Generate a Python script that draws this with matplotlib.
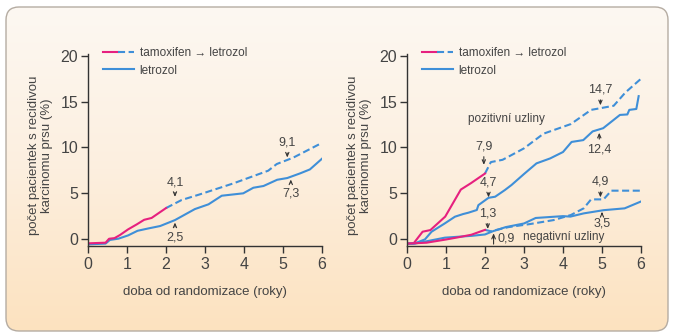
#!/usr/bin/env python3

import matplotlib

matplotlib.use("Agg")

import matplotlib.pyplot as plt
import numpy as np
from matplotlib.colors import LinearSegmentedColormap
from matplotlib.legend_handler import HandlerTuple
from matplotlib.lines import Line2D
from matplotlib.patches import FancyBboxPatch

plt.rcParams["font.family"] = ["Liberation Sans", "DejaVu Sans"]

PINK = "#e6207f"
BLUE = "#3f8fd8"
TEXT = "#444444"
AXIS = "#333333"
ARROW = "->,head_length=0.3,head_width=0.13"

# left panel: all patients
left_tam_x = [0, 0.45, 0.54, 0.68, 0.82, 1.03, 1.25, 1.44, 1.63, 2.0]
left_tam_y = [-0.47, -0.4, 0.03, 0.1, 0.44, 1.06, 1.6, 2.1, 2.3, 3.38]
left_seq_x = [2.0, 2.4, 2.87, 3.73, 4.62, 4.84, 5.26, 6.0]
left_seq_y = [3.38, 4.26, 4.88, 6.08, 7.46, 8.19, 8.88, 10.5]
left_let_x = [0, 0.45, 0.56, 0.78, 1.03, 1.27, 1.55, 1.85, 2.23, 2.74,
              3.09, 3.43, 3.98, 4.24, 4.5, 4.85, 5.11, 5.44, 5.69, 6.0]
left_let_y = [-0.58, -0.5, -0.1, 0.04, 0.4, 0.9, 1.16, 1.42, 2.07, 3.27,
              3.79, 4.73, 4.99, 5.6, 5.79, 6.47, 6.66, 7.17, 7.6, 8.77]

# right panel: positive nodes
pos_tam_x = [0, 0.17, 0.4, 0.6, 0.98, 1.38, 1.64, 2.0]
pos_tam_y = [-0.5, -0.47, 0.8, 0.98, 2.45, 5.4, 6.1, 7.15]
pos_seq_x = [2.0, 2.15, 2.45, 2.65, 3.0, 3.5, 4.2, 4.72, 4.98, 5.3, 5.6, 6.0]
pos_seq_y = [7.15, 8.4, 8.65, 9.1, 9.9, 11.5, 12.55, 14.1, 14.3, 14.55, 16.0, 17.5]
pos_let_x = [0, 0.2, 0.46, 0.63, 0.97, 1.23, 1.44, 1.57, 1.79, 1.83, 2.09, 2.26,
             2.51, 2.68, 3.0, 3.32, 3.67, 4.0, 4.22, 4.52, 4.76, 5.03, 5.46,
             5.65, 5.7, 5.88, 5.94]
pos_let_y = [-0.5, -0.47, -0.04, 0.8, 1.71, 2.44, 2.73, 2.87, 3.17, 3.7, 4.5, 4.62,
             5.35, 5.9, 7.1, 8.26, 8.8, 9.5, 10.6, 10.8, 11.75, 12.1, 13.55,
             13.6, 14.1, 14.2, 15.6]

# right panel: negative nodes
neg_tam_x = [0, 0.5, 1.0, 1.3, 1.65, 2.0]
neg_tam_y = [-0.5, -0.4, -0.05, 0.18, 0.47, 1.0]
neg_seq_x = [2.0, 2.15, 2.6, 3.16, 3.76, 4.2, 4.53, 4.72, 5.04, 5.24, 6.0]
neg_seq_y = [1.0, 0.85, 1.3, 1.64, 2.07, 2.62, 3.35, 4.33, 4.33, 5.28, 5.28]
neg_let_x = [0, 0.2, 0.97, 1.66, 2.0, 2.2, 2.53, 3.0, 3.3, 4.0, 4.19, 4.53,
             5.04, 5.58, 6.0]
neg_let_y = [-0.5, -0.5, 0.15, 0.35, 0.5, 0.85, 1.3, 1.7, 2.3, 2.5, 2.45, 2.8,
             3.15, 3.35, 4.1]

# (label, x, label y, arrow tip y)
left_notes = [("4,1", 2.23, 6.2, 4.6), ("2,5", 2.23, 0.2, 1.8),
              ("9,1", 5.11, 10.5, 8.9), ("7,3", 5.2, 5.0, 6.5)]
right_notes = [("14,7", 4.96, 16.3, 14.6), ("7,9", 1.97, 10.1, 8.1),
               ("12,4", 4.93, 9.8, 11.6), ("4,7", 2.09, 6.15, 4.55),
               ("1,3", 2.07, 2.8, 1.1), ("4,9", 4.96, 6.26, 4.55),
               ("3,5", 5.0, 1.65, 2.95)]

x_ticks = [0, 1, 2, 3, 4, 5, 6]
y_ticks = [0, 5, 10, 15, 20]
y_label = "počet pacientek s recidivou\nkarcinomu prsu (%)"
x_label = "doba od randomizace (roky)"


def draw_background(fig):
    bg = fig.add_axes([0, 0, 1, 1], zorder=-5)
    bg.set_xlim(0, 674)
    bg.set_ylim(336, 0)
    bg.axis("off")
    box = FancyBboxPatch((6, 7), 662, 324, boxstyle="round,pad=0,rounding_size=13",
                         facecolor="none", edgecolor="#b5aca2", linewidth=1.0)
    bg.add_patch(box)
    cmap = LinearSegmentedColormap.from_list(
        "warm", ["#fdf8f2", "#fcefdf", "#fde2bf"])
    grad = np.linspace(0, 1, 256).reshape(-1, 1)
    img = bg.imshow(grad, cmap=cmap, extent=[6, 668, 331, 7], aspect="auto",
                    interpolation="bilinear")
    img.set_clip_path(box)


def style_axes(ax):
    ax.set_facecolor("none")
    ax.set_xlim(0, 6)
    ax.set_ylim(-0.76, 20.2)
    ax.set_xticks(x_ticks)
    ax.set_yticks(y_ticks)
    for side in ("top", "right"):
        ax.spines[side].set_visible(False)
    for side in ("left", "bottom"):
        ax.spines[side].set_color(AXIS)
        ax.spines[side].set_linewidth(1.0)
    ax.tick_params(direction="out", length=5, width=1.0, color=AXIS,
                   labelsize=11.5, labelcolor=TEXT)
    ax.tick_params(axis="y", pad=2)
    ax.tick_params(axis="x", pad=3)
    ax.set_ylabel(y_label, fontsize=9.5, color=TEXT, linespacing=1.15)
    ax.yaxis.set_label_coords(-0.15, 0.47)
    ax.set_xlabel(x_label, fontsize=9.5, color=TEXT)
    ax.xaxis.set_label_coords(0.5, -0.21)

    pink = Line2D([], [], color=PINK, linewidth=1.5)
    dash = Line2D([], [], color=BLUE, linewidth=1.5, dashes=(3.4, 1.7))
    solid = Line2D([], [], color=BLUE, linewidth=1.5)
    ax.legend([(pink, dash), solid], ["tamoxifen → letrozol", "letrozol"],
              handler_map={tuple: HandlerTuple(ndivide=None, pad=0.0)},
              loc="upper left", bbox_to_anchor=(0.064, 1.035), borderaxespad=0,
              borderpad=0, frameon=False, fontsize=8.5, handlelength=2.6,
              handletextpad=0.5, labelspacing=0.45, labelcolor=TEXT)


def arrow_note(ax, text, x, y_text, y_tip):
    ax.annotate(text, xy=(x, y_tip), xytext=(x, y_text), ha="center", va="center",
                fontsize=9, color=TEXT,
                arrowprops=dict(arrowstyle=ARROW, color=AXIS, lw=0.8,
                                shrinkA=1, shrinkB=0))


def plot_group(ax, tam_x, tam_y, seq_x, seq_y, let_x, let_y):
    ax.plot(let_x, let_y, color=BLUE, linewidth=1.5)
    ax.plot(seq_x, seq_y, color=BLUE, linewidth=1.5, dashes=(3.4, 1.7))
    ax.plot(tam_x, tam_y, color=PINK, linewidth=1.5)


def main():
    fig = plt.figure(figsize=(6.74, 3.36), dpi=100)
    draw_background(fig)

    ax_left = fig.add_axes([88 / 674, 90 / 336, 234 / 674, 192 / 336])
    ax_right = fig.add_axes([407 / 674, 90 / 336, 234 / 674, 192 / 336])
    for ax in (ax_left, ax_right):
        style_axes(ax)

    plot_group(ax_left, left_tam_x, left_tam_y, left_seq_x, left_seq_y,
               left_let_x, left_let_y)
    for text, x, y_text, y_tip in left_notes:
        arrow_note(ax_left, text, x, y_text, y_tip)

    plot_group(ax_right, pos_tam_x, pos_tam_y, pos_seq_x, pos_seq_y,
               pos_let_x, pos_let_y)
    plot_group(ax_right, neg_tam_x, neg_tam_y, neg_seq_x, neg_seq_y,
               neg_let_x, neg_let_y)
    for text, x, y_text, y_tip in right_notes:
        arrow_note(ax_right, text, x, y_text, y_tip)

    # 0,9 has its arrow beside the label
    ax_right.annotate("", xy=(2.22, 0.62), xytext=(2.22, -0.55),
                      arrowprops=dict(arrowstyle=ARROW, color=AXIS, lw=0.8,
                                      shrinkA=0, shrinkB=0))
    ax_right.text(2.31, 0.05, "0,9", ha="left", va="center", fontsize=9, color=TEXT)
    ax_right.text(2.56, 13.05, "pozitivní uzliny", ha="center", va="center",
                  fontsize=8.5, color=TEXT)
    ax_right.text(4.02, 0.18, "negativní uzliny", ha="center", va="center",
                  fontsize=8.5, color=TEXT)

    fig.savefig("out.png", dpi=100)
    plt.close(fig)


if __name__ == "__main__":
    main()
